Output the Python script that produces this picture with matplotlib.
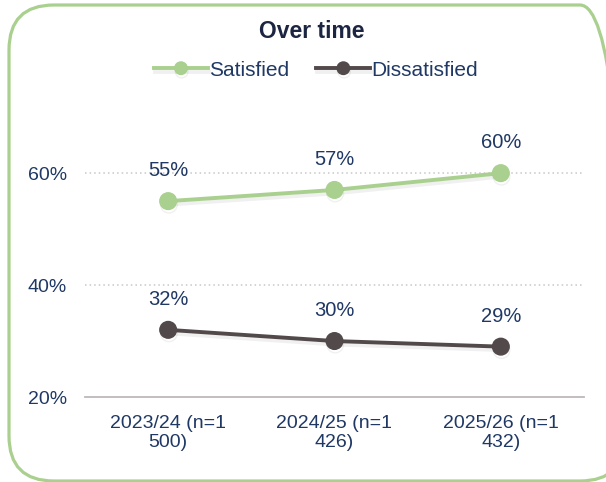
import matplotlib.pyplot as plt
import matplotlib.patheffects as pe
from matplotlib.patches import FancyBboxPatch
from matplotlib.transforms import IdentityTransform

# Datos
periodos = ['2023/24 (n=1\n500)', '2024/25 (n=1\n426)', '2025/26 (n=1\n432)']
satisfechos = [55, 57, 60]
insatisfechos = [32, 30, 29]
ticks_y = [20, 40, 60]

verde = '#a9d08e'
gris = '#524a4a'
azul = '#1f3864'

plt.rcParams['font.family'] = ['Liberation Sans', 'DejaVu Sans']

fig = plt.figure(figsize=(6.06, 4.82), dpi=100)
ax = fig.add_axes([85 / 606, 1 - 397 / 482, 499 / 606, 291 / 482])

# Marco redondeado (en píxeles)
marco = FancyBboxPatch((9, 1), 616, 476, transform=IdentityTransform(),
                       boxstyle='round,pad=0,rounding_size=45', fill=False,
                       edgecolor=verde, linewidth=2.3, clip_on=False)
fig.patches.append(marco)

x = range(len(periodos))
sombra = [pe.SimpleLineShadow(offset=(0.5, -2.5), alpha=0.06, shadow_color='black'), pe.Normal()]
ax.plot(x, satisfechos, color=verde, lw=2.8, marker='o', ms=12, label='Satisfied',
        path_effects=sombra, zorder=3)
ax.plot(x, insatisfechos, color=gris, lw=2.8, marker='o', ms=12, label='Dissatisfied',
        path_effects=sombra, zorder=3)

for xi, v in zip(x, satisfechos):
    ax.annotate(f'{v}%', (xi, v), xytext=(0, 15), textcoords='offset points',
                ha='center', va='bottom', fontsize=14.5, color=azul)
for xi, v in zip(x, insatisfechos):
    ax.annotate(f'{v}%', (xi, v), xytext=(0, 15), textcoords='offset points',
                ha='center', va='bottom', fontsize=14.5, color=azul)

ax.set_xlim(-0.5, 2.5)
ax.set_ylim(20, 72)
ax.set_yticks(ticks_y)
ax.set_yticklabels([f'{t}%' for t in ticks_y], fontsize=14, color=azul)
ax.set_xticks(list(x))
ax.set_xticklabels(periodos, fontsize=14, color=azul, linespacing=1.15)
ax.tick_params(length=0)
ax.tick_params(axis='x', pad=13)
ax.tick_params(axis='y', pad=13)

for t in [40, 60]:
    ax.axhline(t, color='#c8c8c8', lw=1.1, ls=(0, (1, 2)), zorder=1)
for s in ['left', 'right', 'top']:
    ax.spines[s].set_visible(False)
ax.spines['bottom'].set_color('#bfb8b8')
ax.spines['bottom'].set_linewidth(1.3)

fig.text(312 / 606, 1 - 31 / 482, 'Over time', ha='center', va='center',
         fontsize=16.5, fontweight='bold', color='#1c2541')
fig.legend(loc='center', bbox_to_anchor=(316 / 606, 1 - 70 / 482), ncol=2, frameon=False,
           fontsize=15, handlelength=2.6, columnspacing=1.3, handletextpad=0.05,
           labelcolor=azul, markerscale=0.75)

plt.savefig('out.png', dpi=100)
